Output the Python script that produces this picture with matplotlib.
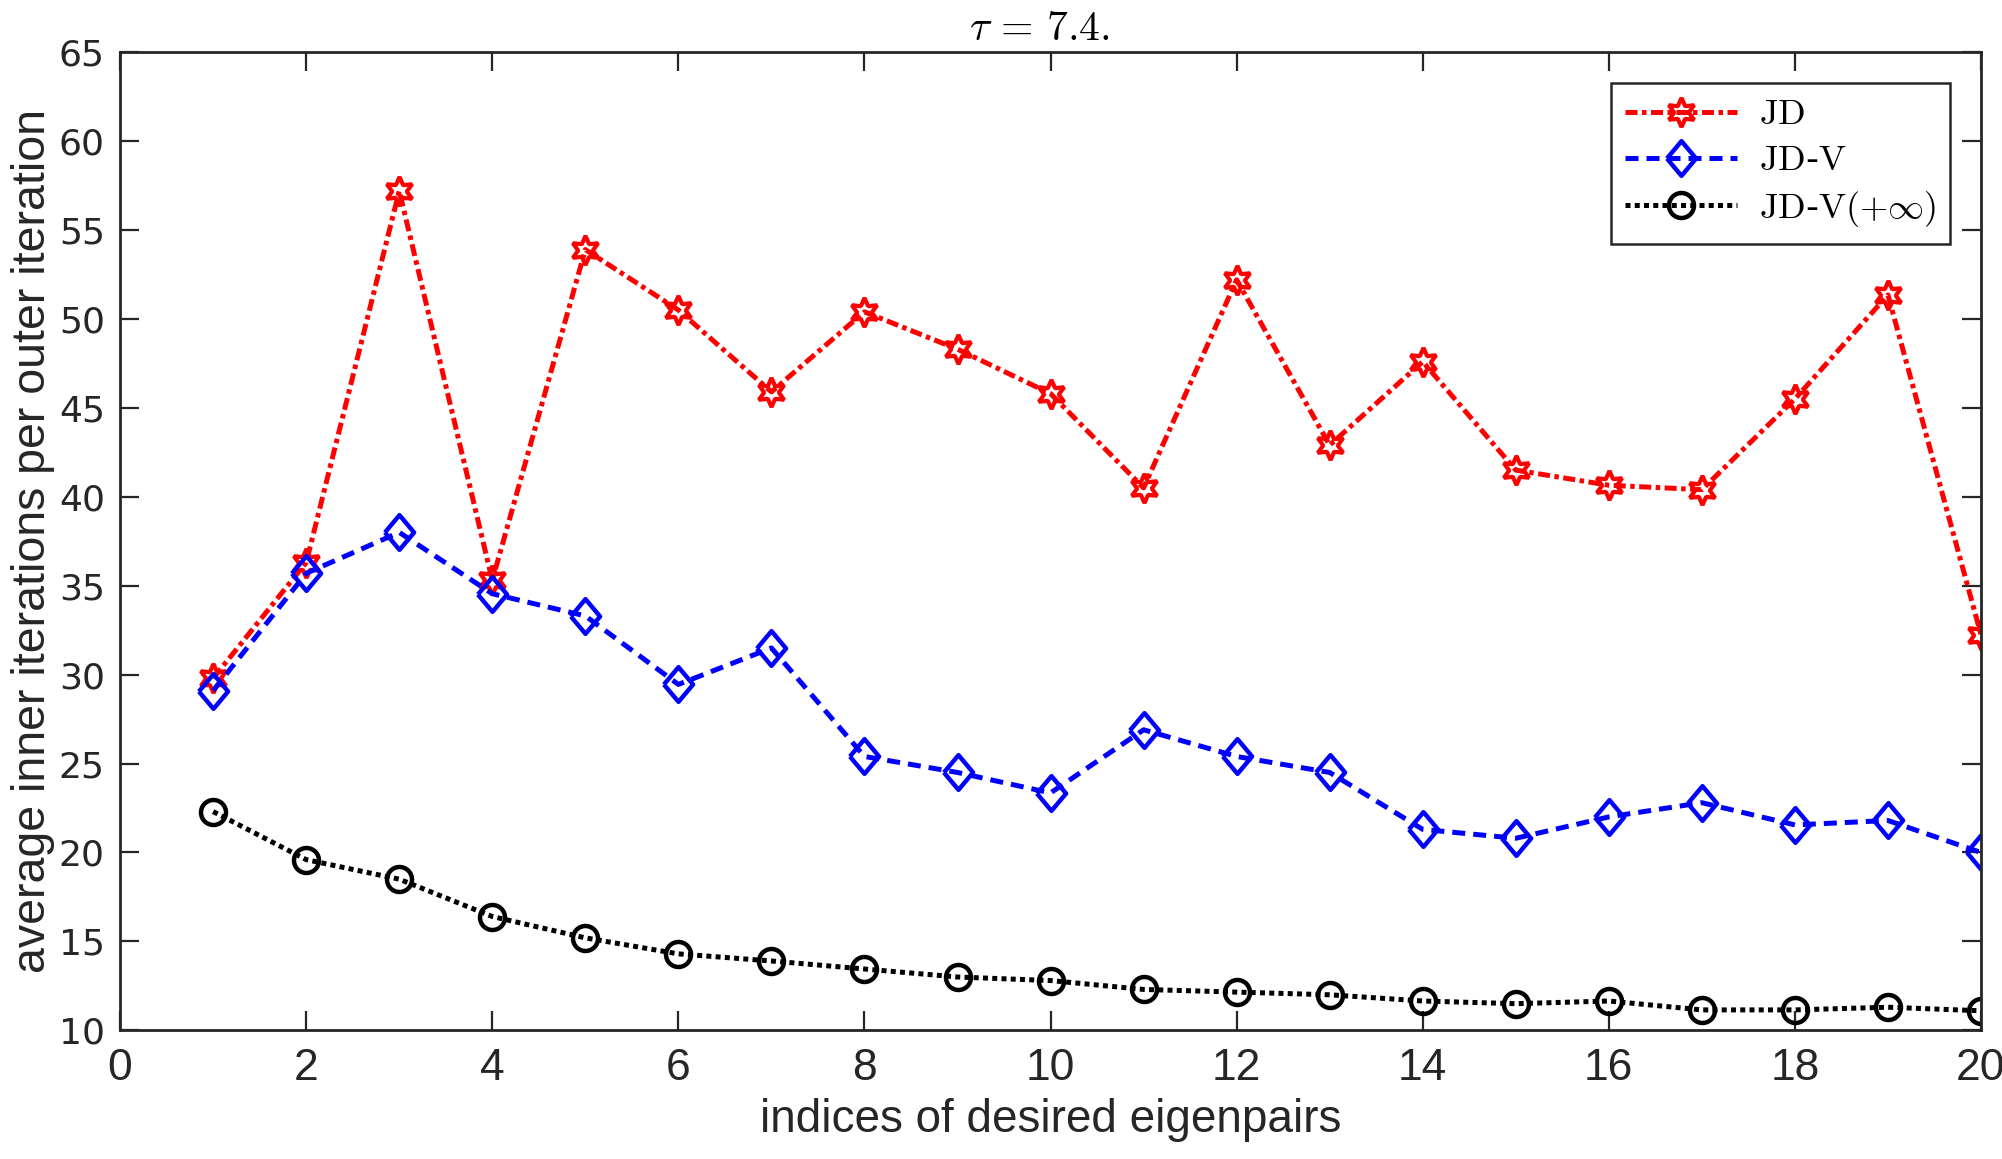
import numpy as np
import matplotlib
matplotlib.use("Agg")
import matplotlib.pyplot as plt

plt.rcParams['mathtext.fontset'] = 'cm'

# ==== Data ====
idx = np.arange(1, 21)
jd = [29.8, 36.3, 57.2, 35.3, 53.9, 50.5, 45.9, 50.4, 48.3, 45.8,
      40.5, 52.2, 42.9, 47.6, 41.5, 40.65, 40.4, 45.5, 51.35, 32.25]
jdv = [29.1, 35.7, 38.0, 34.55, 33.3, 29.45, 31.5, 25.4, 24.5, 23.35,
       26.9, 25.4, 24.5, 21.3, 20.8, 22.0, 22.8, 21.55, 21.8, 20.0]
jdv_inf = [22.3, 19.6, 18.5, 16.4, 15.2, 14.3, 13.9, 13.45, 13.0, 12.8,
           12.3, 12.15, 12.0, 11.65, 11.5, 11.65, 11.15, 11.15, 11.3, 11.1]

xticks = np.arange(0, 21, 2)
yticks = np.arange(10, 66, 5)

# ==== Figure ====
fig = plt.figure(figsize=(20.02, 11.59), dpi=100)
ax = fig.add_axes([0.060, 0.111, 0.9295, 0.844])

diamond = [(-0.84, 0), (0, 1), (0.84, 0), (0, -1), (-0.84, 0)]
lw = 3.6

ax.plot(idx, jd, color='red', linestyle=(0, (2.4, 0.9, 0.9, 0.9)), lw=lw,
        marker=(6, 1, 0), ms=21, mfc='none', mew=3, label=r'$\mathrm{JD}$')
ax.plot(idx, jdv, color='blue', linestyle=(0, (2.6, 1.6)), lw=lw,
        marker=diamond, ms=25, mfc='none', mew=3.2, label=r'$\mathrm{JD}$-$\mathrm{V}$')
ax.plot(idx, jdv_inf, color='black', linestyle=(0, (1, 0.85)), lw=lw,
        marker='o', ms=18, mfc='none', mew=3.2, label=r'$\mathrm{JD}$-$\mathrm{V}(+\infty)$')

ax.set_xlim(0, 20)
ax.set_ylim(10, 65)
ax.set_xticks(xticks)
ax.set_yticks(yticks)

frame = '#262626'
for s in ax.spines.values():
    s.set_linewidth(2)
    s.set_color(frame)
ax.tick_params(direction='in', length=14, width=1.6, color=frame,
               top=True, right=True, labelcolor=frame)
ax.tick_params(axis='x', pad=13)
ax.tick_params(axis='y', pad=11)
for lab in ax.get_xticklabels():
    lab.set_family(['Liberation Sans Narrow', 'Liberation Sans'])
    lab.set_fontsize(32)
for lab in ax.get_yticklabels():
    lab.set_family('DejaVu Sans')
    lab.set_fontsize(26)

ax.set_xlabel('indices of desired eigenpairs', fontsize=33, color=frame,
              family=['Liberation Sans Narrow', 'Liberation Sans'], labelpad=6)
ax.set_ylabel('average inner iterations per outer iteration', fontsize=33.5, color=frame,
              family=['Liberation Sans Narrow', 'Liberation Sans'], labelpad=3)
ax.set_title(r'$\tau\,=\,7.4.$', fontsize=30, pad=9, x=0.494)

leg = ax.legend(loc='upper right', fontsize=26, handlelength=3.1,
                borderaxespad=0.85, fancybox=False, framealpha=1,
                edgecolor=frame, labelspacing=0.33, borderpad=0.4,
                handletextpad=0.6)
leg.get_frame().set_linewidth(1.8)

fig.savefig('out.png', dpi=100)
